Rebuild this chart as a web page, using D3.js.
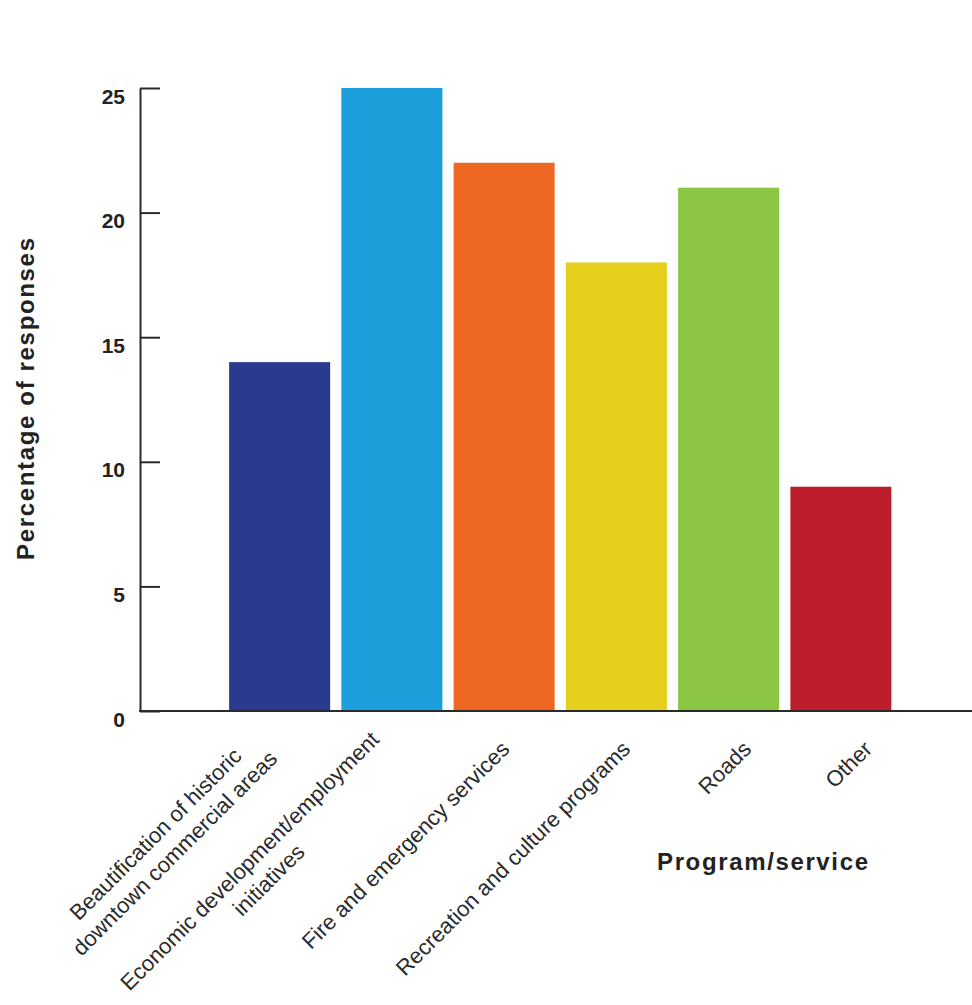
<!DOCTYPE html>
<html>
<head>
<meta charset="utf-8">
<script src="https://cdn.jsdelivr.net/npm/d3@7"></script>
<style>
  html, body { margin: 0; padding: 0; background: #fff; }
  svg { display: block; font-family: "Liberation Sans", Arial, Helvetica, sans-serif; }
</style>
</head>
<body>
<svg id="chart" width="972" height="1005"></svg>
<script>
// ---- data ----
const categories = [
  "Beautification of historic\ndowntown commercial areas",
  "Economic development/employment\ninitiatives",
  "Fire and emergency services",
  "Recreation and culture programs",
  "Roads",
  "Other"
];
const values = [14, 25, 22, 18, 21, 9];
const colors = ["#293a8f", "#1c9edb", "#ee6824", "#e4cf1c", "#8bc541", "#bd1e2c"];
const yTicks = [0, 5, 10, 15, 20, 25];
const yTitle = "Percentage of responses";
const xTitle = "Program/service";

// ---- layout ----
const W = 972, H = 1005;
const axisX = 140, yTop = 88, yBottom = 711;
const svg = d3.select("#chart");

const x = d3.scaleBand()
  .domain(categories)
  .range([223.5, 897])
  .paddingInner(0.1)
  .paddingOuter(0.05);

const y = d3.scaleLinear().domain([0, 25]).range([yBottom, yTop]);

// bars
svg.append("g").selectAll("rect")
  .data(categories)
  .join("rect")
  .attr("x", d => x(d))
  .attr("width", x.bandwidth())
  .attr("y", (d, i) => y(values[i]))
  .attr("height", (d, i) => y(0) - y(values[i]))
  .attr("fill", (d, i) => colors[i]);

// y axis
const yAxis = d3.axisLeft(y)
  .tickValues(yTicks)
  .tickSizeInner(-20)
  .tickSizeOuter(0)
  .tickPadding(15)
  .tickFormat(d3.format("d"));

const gy = svg.append("g")
  .attr("transform", `translate(${axisX},0)`)
  .call(yAxis);
gy.select(".domain").attr("stroke", "#2a2a2a").attr("stroke-width", 2);
gy.selectAll(".tick line").attr("stroke", "#2a2a2a").attr("stroke-width", 2);
gy.selectAll(".tick text")
  .attr("fill", "#222")
  .attr("font-size", 21)
  .attr("font-weight", "bold")
  .attr("font-family", "'Liberation Sans', Arial, sans-serif")
  .attr("dy", "0.72em");

// x axis baseline
svg.append("line")
  .attr("x1", axisX - 1)
  .attr("x2", W)
  .attr("y1", y(0))
  .attr("y2", y(0))
  .attr("stroke", "#2a2a2a")
  .attr("stroke-width", 2);

// category labels (rotated -45deg, right end centred on anchor)
const first = categories[0], last = categories[categories.length - 1];
const labelPos = d3.scalePoint()
  .domain(categories)
  .range([x(first) + x.bandwidth() / 2 - 16, x(last) + x.bandwidth() / 2 + 27]);
const labelY = 745;
const lh = 27;
const fs = 22;

categories.forEach(cat => {
  const lines = cat.split("\n");
  const g = svg.append("g")
    .attr("transform", `translate(${labelPos(cat)},${labelY}) rotate(-45)`);
  const texts = lines.map((ln, i) =>
    g.append("text")
      .attr("font-size", fs)
      .attr("fill", "#2a2a2a")
      .attr("text-anchor", "middle")
      .attr("y", (i - (lines.length - 1) / 2) * lh)
      .attr("dy", "0.35em")
      .text(ln)
  );
  const wMax = d3.max(texts, t => t.node().getComputedTextLength());
  texts.forEach(t => t.attr("x", -wMax / 2));
});

// axis titles
svg.append("text")
  .attr("transform", `translate(34,399) rotate(-90)`)
  .attr("text-anchor", "middle")
  .attr("font-size", 24)
  .attr("font-weight", "bold")
  .attr("fill", "#222")
  .attr("textLength", 322)
  .attr("lengthAdjust", "spacing")
  .text(yTitle);

svg.append("text")
  .attr("x", 657)
  .attr("y", 870)
  .attr("font-size", 24)
  .attr("font-weight", "bold")
  .attr("fill", "#222")
  .attr("textLength", 211)
  .attr("lengthAdjust", "spacing")
  .text(xTitle);
</script>
</body>
</html>
